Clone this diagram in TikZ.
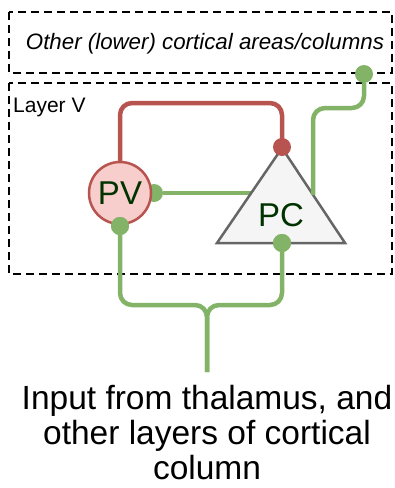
\documentclass[tikz,border=0pt]{standalone}
\usepackage{fontspec}
\setmainfont{Liberation Sans}
\usepackage{xcolor}
\definecolor{axgreen}{HTML}{82B366}
\definecolor{axred}{HTML}{B85450}
\definecolor{pvfill}{HTML}{F8CECC}
\definecolor{pcfill}{HTML}{F5F5F5}
\definecolor{pcline}{HTML}{666666}
\definecolor{celltext}{HTML}{003300}

\begin{document}
\begin{tikzpicture}[
            x=1pt, y=-1pt,
            area/.style={draw, line width=2.8pt, dash pattern=on 8pt off 5pt},
            excit/.style={draw=axgreen, line width=4.5pt, rounded corners=12pt},
            inhib/.style={draw=axred, line width=4.5pt, rounded corners=12pt},
            gdot/.style={circle, fill=axgreen, inner sep=0pt, minimum size=18pt},
            rdot/.style={circle, fill=axred, inner sep=0pt, minimum size=18pt},
            celllabel/.style={text=celltext, font=\fontsize{33}{36}\selectfont}
        ]
            \useasboundingbox (0,0) rectangle (395,488);

            % Areas
            \draw[area] (9,12) rectangle (392,73);
            \draw[area] (9,83) rectangle (392,274);
            \node (other) at (205,44) {\fontsize{22.3}{24}\selectfont\itshape Other (lower) cortical areas/columns};
            \node[anchor=west, inner sep=0pt] (layer) at (13,107) {\fontsize{21}{23}\selectfont Layer V};

            % Cells
            \coordinate (apex) at (282,148);
            \coordinate (bl) at (217,243);
            \coordinate (br) at (345,243);
            \coordinate (pcout) at (313,195);
            \node[gdot] (pvout) at (154,193) {};
            \draw[excit] (pvout) -- (253,193);
            \draw[fill=pcfill, draw=pcline, line width=2.5pt] (apex) -- (br) -- (bl) -- cycle;
            \node[celllabel] (pc) at (281,215) {PC};
            \node[circle, draw=axred, fill=pvfill, line width=2.5pt, minimum size=62pt, inner sep=0pt, celllabel] (pv) at (120,193) {PV};

            % Connections
            \node[gdot] (pvin) at (120,226) {};
            \node[gdot] (pcin) at (282,243) {};
            \node[gdot] (target) at (364,74) {};
            \coordinate (thal) at (207,372);
            \draw[inhib] (pv.north) -- (120,103) -- (282,103) -- (apex);
            \node[rdot] (pcinh) at (282,147) {};
            \draw[excit] (pcout) -- (313,108) -- (364,108) -- (target);
            \draw[excit] (pvin) -- (120,305) -- (207,305) -- (thal);
            \draw[excit] (pcin) -- (282,305) -- (207,305) -- (thal);
            \node[gdot] at (pvin) {};
            \node[gdot] at (pcin) {};

            % Input
            \node[align=center, font=\fontsize{33.5}{35}\selectfont] (input) at (207,433) {Input from thalamus, and\\other layers of cortical\\column};
        \end{tikzpicture}
\end{document}
